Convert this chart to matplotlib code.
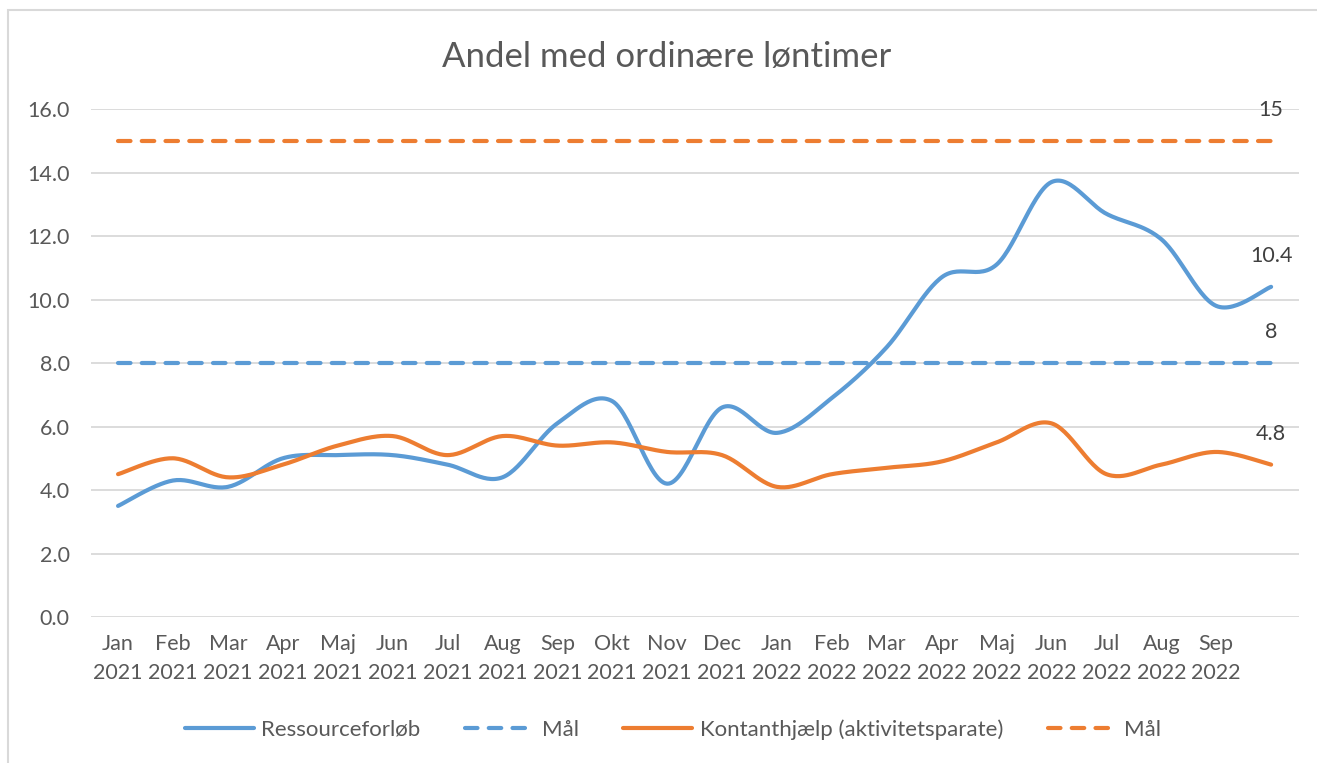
import numpy as np
import matplotlib
matplotlib.use("Agg")
from matplotlib import pyplot as plt
from matplotlib.lines import Line2D
from matplotlib.patches import Rectangle

plt.rcParams['font.family'] = ['Lato', 'DejaVu Sans']

months = ["Jan\n2021", "Feb\n2021", "Mar\n2021", "Apr\n2021", "Maj\n2021", "Jun\n2021",
          "Jul\n2021", "Aug\n2021", "Sep\n2021", "Okt\n2021", "Nov\n2021", "Dec\n2021",
          "Jan\n2022", "Feb\n2022", "Mar\n2022", "Apr\n2022", "Maj\n2022", "Jun\n2022",
          "Jul\n2022", "Aug\n2022", "Sep\n2022", ""]
ressource = [3.5, 4.3, 4.1, 5.0, 5.1, 5.1, 4.8, 4.4, 6.1, 6.8, 4.2, 6.6,
             5.8, 6.9, 8.5, 10.7, 11.1, 13.7, 12.7, 11.9, 9.8, 10.4]
kontant = [4.5, 5.0, 4.4, 4.8, 5.4, 5.7, 5.1, 5.7, 5.4, 5.5, 5.2, 5.1,
           4.1, 4.5, 4.7, 4.9, 5.5, 6.1, 4.5, 4.8, 5.2, 4.8]
maal_ressource = [8] * len(months)
maal_kontant = [15] * len(months)

BLUE = "#5B9BD5"
ORANGE = "#ED7D31"
GRAY = "#595959"


def smooth(y, n=30):
    # Excel-like smoothed line (Catmull-Rom as cubic Bezier)
    y = np.asarray(y, dtype=float)
    x = np.arange(len(y), dtype=float)
    pts = np.column_stack([x, y])
    p = np.vstack([pts[0], pts, pts[-1]])
    out = []
    t = np.linspace(0, 1, n)[:, None]
    for i in range(1, len(p) - 2):
        p0, p1, p2, p3 = p[i - 1], p[i], p[i + 1], p[i + 2]
        c1 = p1 + (p2 - p0) / 6
        c2 = p2 - (p3 - p1) / 6
        seg = ((1 - t) ** 3) * p1 + 3 * ((1 - t) ** 2) * t * c1 + 3 * (1 - t) * t ** 2 * c2 + t ** 3 * p2
        out.append(seg if i == 1 else seg[1:])
    out = np.vstack(out)
    return out[:, 0], out[:, 1]


fig = plt.figure(figsize=(13.17, 7.63), dpi=100)
ax = fig.add_axes([0.0688, 0.1913, 0.9172, 0.6658])

x = np.arange(len(months))
lw = 3
dash = (0, (3.0, 2.7))

sx, sy = smooth(ressource)
ax.plot(sx, sy, color=BLUE, lw=lw, solid_capstyle="round", zorder=3)
ax.plot(x, maal_ressource, color=BLUE, lw=lw, linestyle=dash, dash_capstyle="round", zorder=3)
sx, sy = smooth(kontant)
ax.plot(sx, sy, color=ORANGE, lw=lw, solid_capstyle="round", zorder=3)
ax.plot(x, maal_kontant, color=ORANGE, lw=lw, linestyle=dash, dash_capstyle="round", zorder=3)

# data labels on the last point
for series in [ressource, maal_ressource, kontant, maal_kontant]:
    v = series[-1]
    ax.annotate(f"{v:g}", (x[-1], v), xytext=(0, 22), textcoords="offset points",
                ha="center", va="center", fontsize=15.5, color="#404040", zorder=4)

ax.set_xlim(-0.5, len(months) - 0.5)
ax.set_ylim(0, 16)
ax.set_yticks(np.arange(0, 16.1, 2))
ax.set_yticklabels([f"{v:.1f}" for v in np.arange(0, 16.1, 2)])
ax.set_xticks(x)
ax.set_xticklabels(months, linespacing=1.6)
ax.tick_params(axis="both", length=0, labelsize=15.5, labelcolor=GRAY)
ax.tick_params(axis="y", pad=15)
ax.tick_params(axis="x", pad=12)
ax.grid(axis="y", color="#D9D9D9", lw=1.3)
ax.set_axisbelow(True)
for s in ax.spines.values():
    s.set_visible(False)

fig.text(0.5065, 0.925, "Andel med ordinære løntimer", ha="center", va="center",
         fontsize=25, color=GRAY)

handles = [
    Line2D([], [], color=BLUE, lw=lw, solid_capstyle="round"),
    Line2D([], [], color=BLUE, lw=lw, linestyle=dash, dash_capstyle="round"),
    Line2D([], [], color=ORANGE, lw=lw, solid_capstyle="round"),
    Line2D([], [], color=ORANGE, lw=lw, linestyle=dash, dash_capstyle="round"),
]
labels = ["Ressourceforløb", "Mål", "Kontanthjælp (aktivitetsparate)", "Mål"]
leg = fig.legend(handles, labels, loc="center", bbox_to_anchor=(0.511, 0.044), ncol=4,
                 frameon=False, fontsize=16, handlelength=3.1, handletextpad=0.35,
                 columnspacing=2.0)
for t in leg.get_texts():
    t.set_color(GRAY)

# outer chart border (cropped at right and bottom)
fig.patches.append(Rectangle((8 / 1317, -0.05), 1.1, 1 - 10 / 763 + 0.05,
                             transform=fig.transFigure, fill=False,
                             edgecolor="#D9D9D9", lw=1.5))

fig.savefig("out.png", dpi=100)
